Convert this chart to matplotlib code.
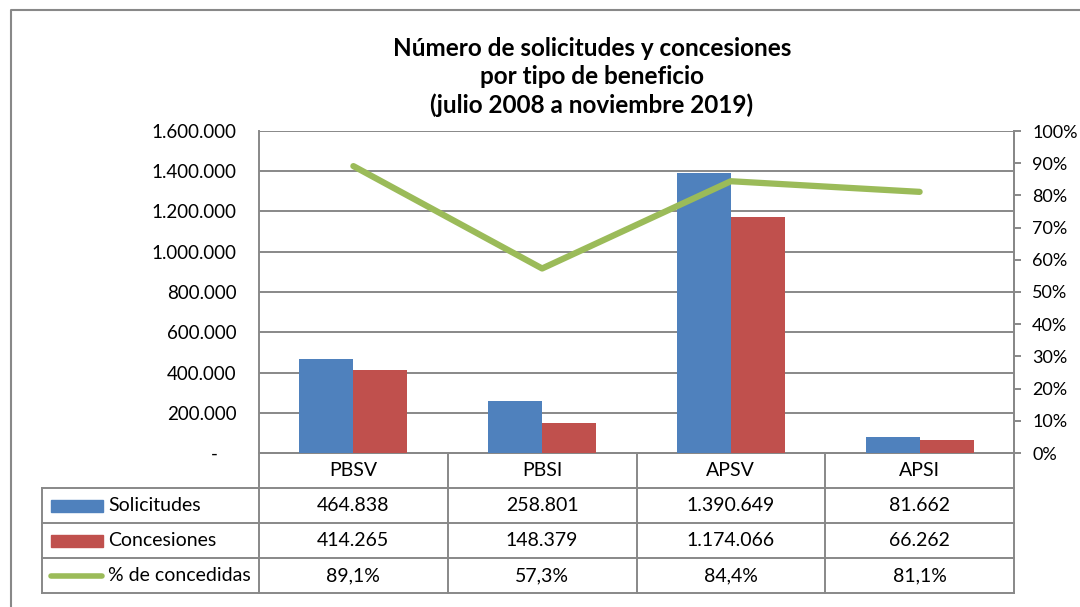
import matplotlib.pyplot as plt
from matplotlib.ticker import FuncFormatter, MultipleLocator
import numpy as np

plt.rcParams['font.family'] = ['Lato', 'DejaVu Sans']

categorias = ['PBSV', 'PBSI', 'APSV', 'APSI']
solicitudes = [464838, 258801, 1390649, 81662]
concesiones = [414265, 148379, 1174066, 66262]
pct_concedidas = [0.891, 0.573, 0.844, 0.811]
series_nombres = ['Solicitudes', 'Concesiones', '% de concedidas']
titulo = 'Número de solicitudes y concesiones\npor tipo de beneficio\n(julio 2008 a noviembre 2019)'

AZUL = '#4F81BD'
ROJO = '#C0504D'
VERDE = '#9BBB59'
GRIS = '#888888'

W, H = 1080, 607
fig = plt.figure(figsize=(W / 100, H / 100), dpi=100)

# pixel positions of the plot area (Excel-like layout)
px_left, px_right, px_top, px_bottom = 259, 1014, 131, 453
ax = fig.add_axes([px_left / W, 1 - px_bottom / H,
                   (px_right - px_left) / W, (px_bottom - px_top) / H])

x = np.arange(len(categorias))
bw = 0.286
ax.bar(x - bw / 2, solicitudes, bw, color=AZUL, zorder=3)
ax.bar(x + bw / 2, concesiones, bw, color=ROJO, zorder=3)
ax.set_xlim(-0.5, len(categorias) - 0.5)
ax.set_ylim(0, 1600000)
ax.yaxis.set_major_locator(MultipleLocator(200000))


def miles(v, pos):
    if v == 0:
        return '-    '
    return f'{int(v):,}'.replace(',', '.')


ax.yaxis.set_major_formatter(FuncFormatter(miles))
ax.tick_params(axis='y', length=0, pad=16, labelsize=13.5)
ax.set_xticks([])
ax.grid(axis='y', color=GRIS, linewidth=1.4, zorder=0)
for s in ['left', 'right', 'bottom']:
    ax.spines[s].set_color(GRIS)
    ax.spines[s].set_linewidth(1.4)
ax.spines['top'].set_visible(False)

ax2 = ax.twinx()
ax2.plot(x, pct_concedidas, color=VERDE, linewidth=4.5, solid_capstyle='round', zorder=5)
ax2.set_ylim(0, 1)
ax2.yaxis.set_major_locator(MultipleLocator(0.1))
ax2.yaxis.set_major_formatter(FuncFormatter(lambda v, p: f'{v * 100:.0f}%'))
ax2.tick_params(axis='y', length=5, width=1.4, color=GRIS, pad=8, labelsize=13)
for s in ['left', 'top', 'bottom']:
    ax2.spines[s].set_visible(False)
ax2.spines['right'].set_color(GRIS)
ax2.spines['right'].set_linewidth(1.4)

# overlay in pixel coordinates for title, frame and data table
ov = fig.add_axes([0, 0, 1, 1], zorder=-1)
ov.set_xlim(0, W)
ov.set_ylim(H, 0)
ov.axis('off')
ov.patch.set_alpha(0)

ov.plot([11, 11, W + 5], [H + 5, 10, 10], color=GRIS, linewidth=1.5)
ov.text(592, 77, titulo, ha='center', va='center', fontsize=17.5,
        fontweight='bold', linespacing=1.28)

fila_h = 35
filas_y = [px_bottom + i * fila_h for i in range(5)]
col_x = list(np.linspace(px_left, px_right, len(categorias) + 1))
tab_left = 42

lw_t = 1.4
ov.plot([px_left, px_right], [filas_y[0], filas_y[0]], color=GRIS, lw=lw_t)
for yy in filas_y[1:]:
    ov.plot([tab_left, px_right], [yy, yy], color=GRIS, lw=lw_t)
ov.plot([tab_left, tab_left], [filas_y[1], filas_y[4]], color=GRIS, lw=lw_t)
for xx in col_x:
    ov.plot([xx, xx], [filas_y[0], filas_y[4]], color=GRIS, lw=lw_t)

fs = 14
for i, c in enumerate(categorias):
    cx = (col_x[i] + col_x[i + 1]) / 2
    ov.text(cx, (filas_y[0] + filas_y[1]) / 2, c, ha='center', va='center', fontsize=fs)
    ov.text(cx, (filas_y[1] + filas_y[2]) / 2, miles(solicitudes[i], 0),
            ha='center', va='center', fontsize=fs)
    ov.text(cx, (filas_y[2] + filas_y[3]) / 2, miles(concesiones[i], 0),
            ha='center', va='center', fontsize=fs)
    ov.text(cx, (filas_y[3] + filas_y[4]) / 2, f'{pct_concedidas[i] * 100:.1f}%'.replace('.', ','),
            ha='center', va='center', fontsize=fs)

# legend keys inside the table
for j, nombre in enumerate(series_nombres):
    cy = (filas_y[j + 1] + filas_y[j + 2]) / 2
    if j < 2:
        ov.add_patch(plt.Rectangle((51, cy - 6), 52, 12, color=[AZUL, ROJO][j]))
    else:
        ov.plot([51, 102], [cy, cy], color=VERDE, linewidth=4, solid_capstyle='round')
    ov.text(108, cy, nombre, ha='left', va='center', fontsize=fs)

fig.savefig('out.png', dpi=100)
